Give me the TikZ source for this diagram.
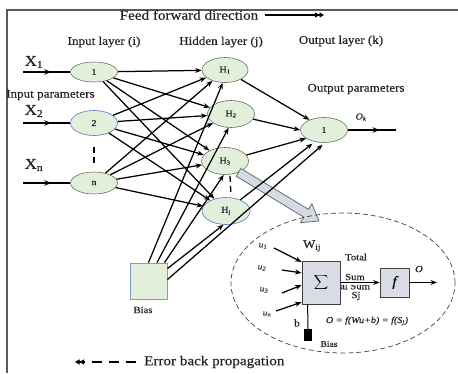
\documentclass[tikz,border=0pt]{standalone}
\usepackage{fontspec}
\setmainfont[FakeStretch=1.12,FakeBold=0.35]{Liberation Serif}
\usetikzlibrary{arrows.meta,calc,decorations.markings,shapes.geometric}
\definecolor{nodefill}{HTML}{E2EFDA}
\definecolor{nodeedge}{HTML}{66735E}
\definecolor{blueedge}{HTML}{4F7CC4}
\definecolor{biasedge}{HTML}{7A9CCF}
\definecolor{boxfill}{HTML}{D9DCE6}
\definecolor{boxedge}{HTML}{404040}
\definecolor{pointerfill}{HTML}{D5DBE5}
\definecolor{pointeredge}{HTML}{6D6D6D}
\definecolor{framecol}{HTML}{5A5A5A}
\definecolor{txt}{HTML}{222222}
\newcommand\fsz[1]{\fontsize{#1}{#1}\selectfont}
\begin{document}
\begin{tikzpicture}[x=1pt,y=-1pt,
  neuron/.style={ellipse,draw=nodeedge,fill=nodefill,line width=0.6pt,
    minimum width=47pt,minimum height=25pt,inner sep=0pt,font=\fsz{9},text=txt},
  conn/.style={line width=1.25pt,-{Stealth[length=6.5pt,width=5pt]}},
  midarrow/.style={line width=1.3pt,decoration={markings,
    mark=at position #1 with {\arrow{Stealth[length=7pt,width=5.5pt]}}},postaction={decorate}},
  lbl/.style={font=\fsz{11.7},text=txt,inner sep=0pt},
  big/.style={font=\fsz{13.5},text=txt,inner sep=0pt},
  small/.style={font=\fsz{9.5},text=txt,inner sep=0pt},
  ulbl/.style={font=\fsz{8.5}\itshape,text=black!75,inner sep=0pt},
  opbox/.style={rectangle,draw=boxedge,fill=boxfill,line width=0.8pt,inner sep=0pt}
]
\useasboundingbox (0,0) rectangle (458,373);

% frame
\draw[framecol,line width=1.3pt] (458,10) -- (7,10) -- (7,373);

% headings
\node[big] (ff) at (189,15) {Feed forward direction};
\coordinate (ffs) at (265,15);
\coordinate (ffe) at (324,15);
\draw[line width=1.3pt,-{Triangle[length=4.5pt,width=5pt]Triangle[length=4.5pt,width=5pt]}] (ffs) -- (ffe);
\node[lbl] (lin) at (104,42) {Input layer (i)};
\node[lbl] (lhid) at (221,42) {Hidden layer (j)};
\node[lbl] (lout) at (341,41) {Output layer (k)};
\node[lbl,anchor=west] (lip) at (6,95) {Input parameters};
\node[lbl] (lop) at (356,89) {Output parameters};

% input layer
\node[neuron,minimum height=20pt] (n1) at (94,72) {1};
\node[neuron,draw=blueedge] (n2) at (94,123) {2};
\node[neuron,minimum height=22pt] (nn) at (94,183) {n};
\draw[line width=1.3pt,dash pattern=on 6pt off 4pt,shorten <=11pt,shorten >=5pt] (n2) -- (nn);

% hidden layer
\node[neuron,minimum width=46pt] (h1) at (225,70) {H\textsubscript{1}};
\node[neuron,minimum height=27pt] (h2) at (231,114) {H\textsubscript{2}};
\node[neuron,minimum height=27pt] (h3) at (225,161) {H\textsubscript{3}};
\node[neuron,draw=blueedge,minimum width=48pt,minimum height=27pt] (hj) at (226,211) {H\textsubscript{j}};
\draw[line width=1.3pt,dash pattern=on 6pt off 4pt] ($(h3.south)+(5,1)$) -- ($(hj.north)+(5,-1)$);

% output layer
\node[neuron] (out) at (324,130) {1};
\node[font=\fsz{9}\itshape,text=txt,inner sep=0pt] (ok) at (361,117) {O\textsubscript{k}};
\coordinate (oend) at (396,130);
\draw[midarrow=0.66] (out) -- (oend);

% bias unit
\node[draw=biasedge,fill=nodefill,line width=0.8pt,minimum width=37pt,minimum height=36pt,inner sep=0pt] (bias) at (148.5,281) {};
\node[small] (lbias) at (143,310) {Bias};

% inputs
\node[font=\fsz{15},text=txt,inner sep=0pt] (x1) at (34,62) {X\textsubscript{1}};
\node[font=\fsz{15},text=txt,inner sep=0pt] (x2) at (34,111) {X\textsubscript{2}};
\node[font=\fsz{15},text=txt,inner sep=0pt] (xn) at (34,165) {X\textsubscript{n}};
\coordinate (x1s) at (23,72);
\coordinate (x2s) at (23,123);
\coordinate (xns) at (23,183);
\draw[midarrow=0.6] (x1s) -- (n1);
\draw[midarrow=0.6] (x2s) -- (n2);
\draw[midarrow=0.6] (xns) -- (nn);

% pointer to the neuron detail
\coordinate (gs) at (h3.-40);
\coordinate (gt) at (319,221);
\coordinate (gb) at ($(gt)!15pt!(gs)$);
\draw[pointeredge,fill=pointerfill,line width=0.8pt,line join=miter]
  ($(gs)!4.5pt!90:(gt)$) -- ($(gb)!4.5pt!-90:(gs)$) -- ($(gb)!11pt!-90:(gs)$) -- (gt)
  -- ($(gb)!11pt!90:(gs)$) -- ($(gb)!4.5pt!90:(gs)$) -- ($(gs)!4.5pt!-90:(gt)$) -- cycle;

% input -> hidden
\foreach \s in {n1,n2,nn}{
  \foreach \t in {h1,h2,h3,hj}{
    \draw[conn] (\s) -- (\t);
  }
}

% hidden -> output
\draw[conn] (h1) -- (out.145);
\draw[conn] (h2) -- (out.180);
\draw[conn] (h3) -- (out.-155);
\draw[conn,shorten >=3pt] (hj) -- (out.-128);

% bias -> hidden, output
\draw[conn] (bias.north) -- (h1.-100);
\draw[conn] ($(bias.north)+(8.5,0)$) -- (h2.-100);
\draw[conn] ($(bias.north)+(16,0)$) -- (h3.-95);
\draw[conn] ($(bias.north east)+(0,6)$) -- (hj.-100);
\draw[conn,shorten >=3pt] ($(bias.north east)+(0,17)$) -- (out.-86);

% neuron detail
\draw[line width=0.7pt,dash pattern=on 5pt off 3pt,black!75] (343,283) ellipse [x radius=112pt,y radius=70pt];
\node[opbox,minimum width=38pt,minimum height=43pt] (sig) at (321,282.5) {\fsz{17}$\displaystyle\sum$};
\node[opbox,minimum width=29pt,minimum height=29pt] (fbox) at (394.5,282.5) {\fsz{14}\itshape f};
\begin{scope}
  \clip (341,285) rectangle (372,292);
  \node[small] (garb) at (355,286) {al Sum};
\end{scope}
\draw[conn,line width=1.3pt] (sig) -- (fbox);
\coordinate (fo) at (437,282.5);
\draw[conn,line width=1.3pt] (fbox) -- (fo);
\node[font=\fsz{9.5}\itshape,text=txt,inner sep=0pt] (olab) at (419,269) {O};
\node[font=\fsz{11.5},text=txt,inner sep=0pt] (wij) at (312,246) {W\textsubscript{ij}};
\node[small] (tot) at (356,257) {Total};
\node[small] (sumt) at (355,277) {Sum};
\node[small] (sj) at (356,296) {Sj};
\node[font=\fsz{9}\itshape,text=txt,inner sep=0pt] (form) at (367,321) {O = f(Wu+b) = f(S\textsubscript{j})};

\node[ulbl] (u1) at (263,246) {u\textsubscript{1}};
\node[ulbl] (u2) at (262,268) {u\textsubscript{2}};
\node[ulbl] (u3) at (264,290) {u\textsubscript{3}};
\node[ulbl] (un) at (267,314) {u\textsubscript{n}};
\coordinate (u1s) at (274,248);
\coordinate (u2s) at (282,270);
\coordinate (u3s) at (282,293);
\coordinate (uns) at (276,311);
\draw[conn] (u1s) -- ($(sig.north west)!0.03!(sig.south west)$);
\draw[conn] (u2s) -- ($(sig.north west)!0.28!(sig.south west)$);
\draw[conn] (u3s) -- ($(sig.north west)!0.56!(sig.south west)$);
\draw[conn] (uns) -- ($(sig.north west)!0.95!(sig.south west)$);

\node[fill=black,minimum width=8pt,minimum height=12pt,inner sep=0pt] (bsq) at (308,335) {};
\draw[line width=1pt] ($(sig.south west)+(6,0)$) -- (bsq.north);
\node[font=\fsz{10},text=txt,inner sep=0pt] (blab) at (297,323) {b};
\node[font=\fsz{8.5},text=txt,inner sep=0pt] (bsqlab) at (329,344) {Bias};

% back propagation legend
\coordinate (ebs) at (136,362);
\coordinate (ebe) at (75,362);
\draw[line width=1.3pt,dash pattern=on 10pt off 7pt,-{Triangle[length=4.5pt,width=5pt]Triangle[length=4.5pt,width=5pt]}] (ebs) -- (ebe);
\node[big,anchor=west] (eb) at (144,362) {Error back propagation};
\end{tikzpicture}
\end{document}
